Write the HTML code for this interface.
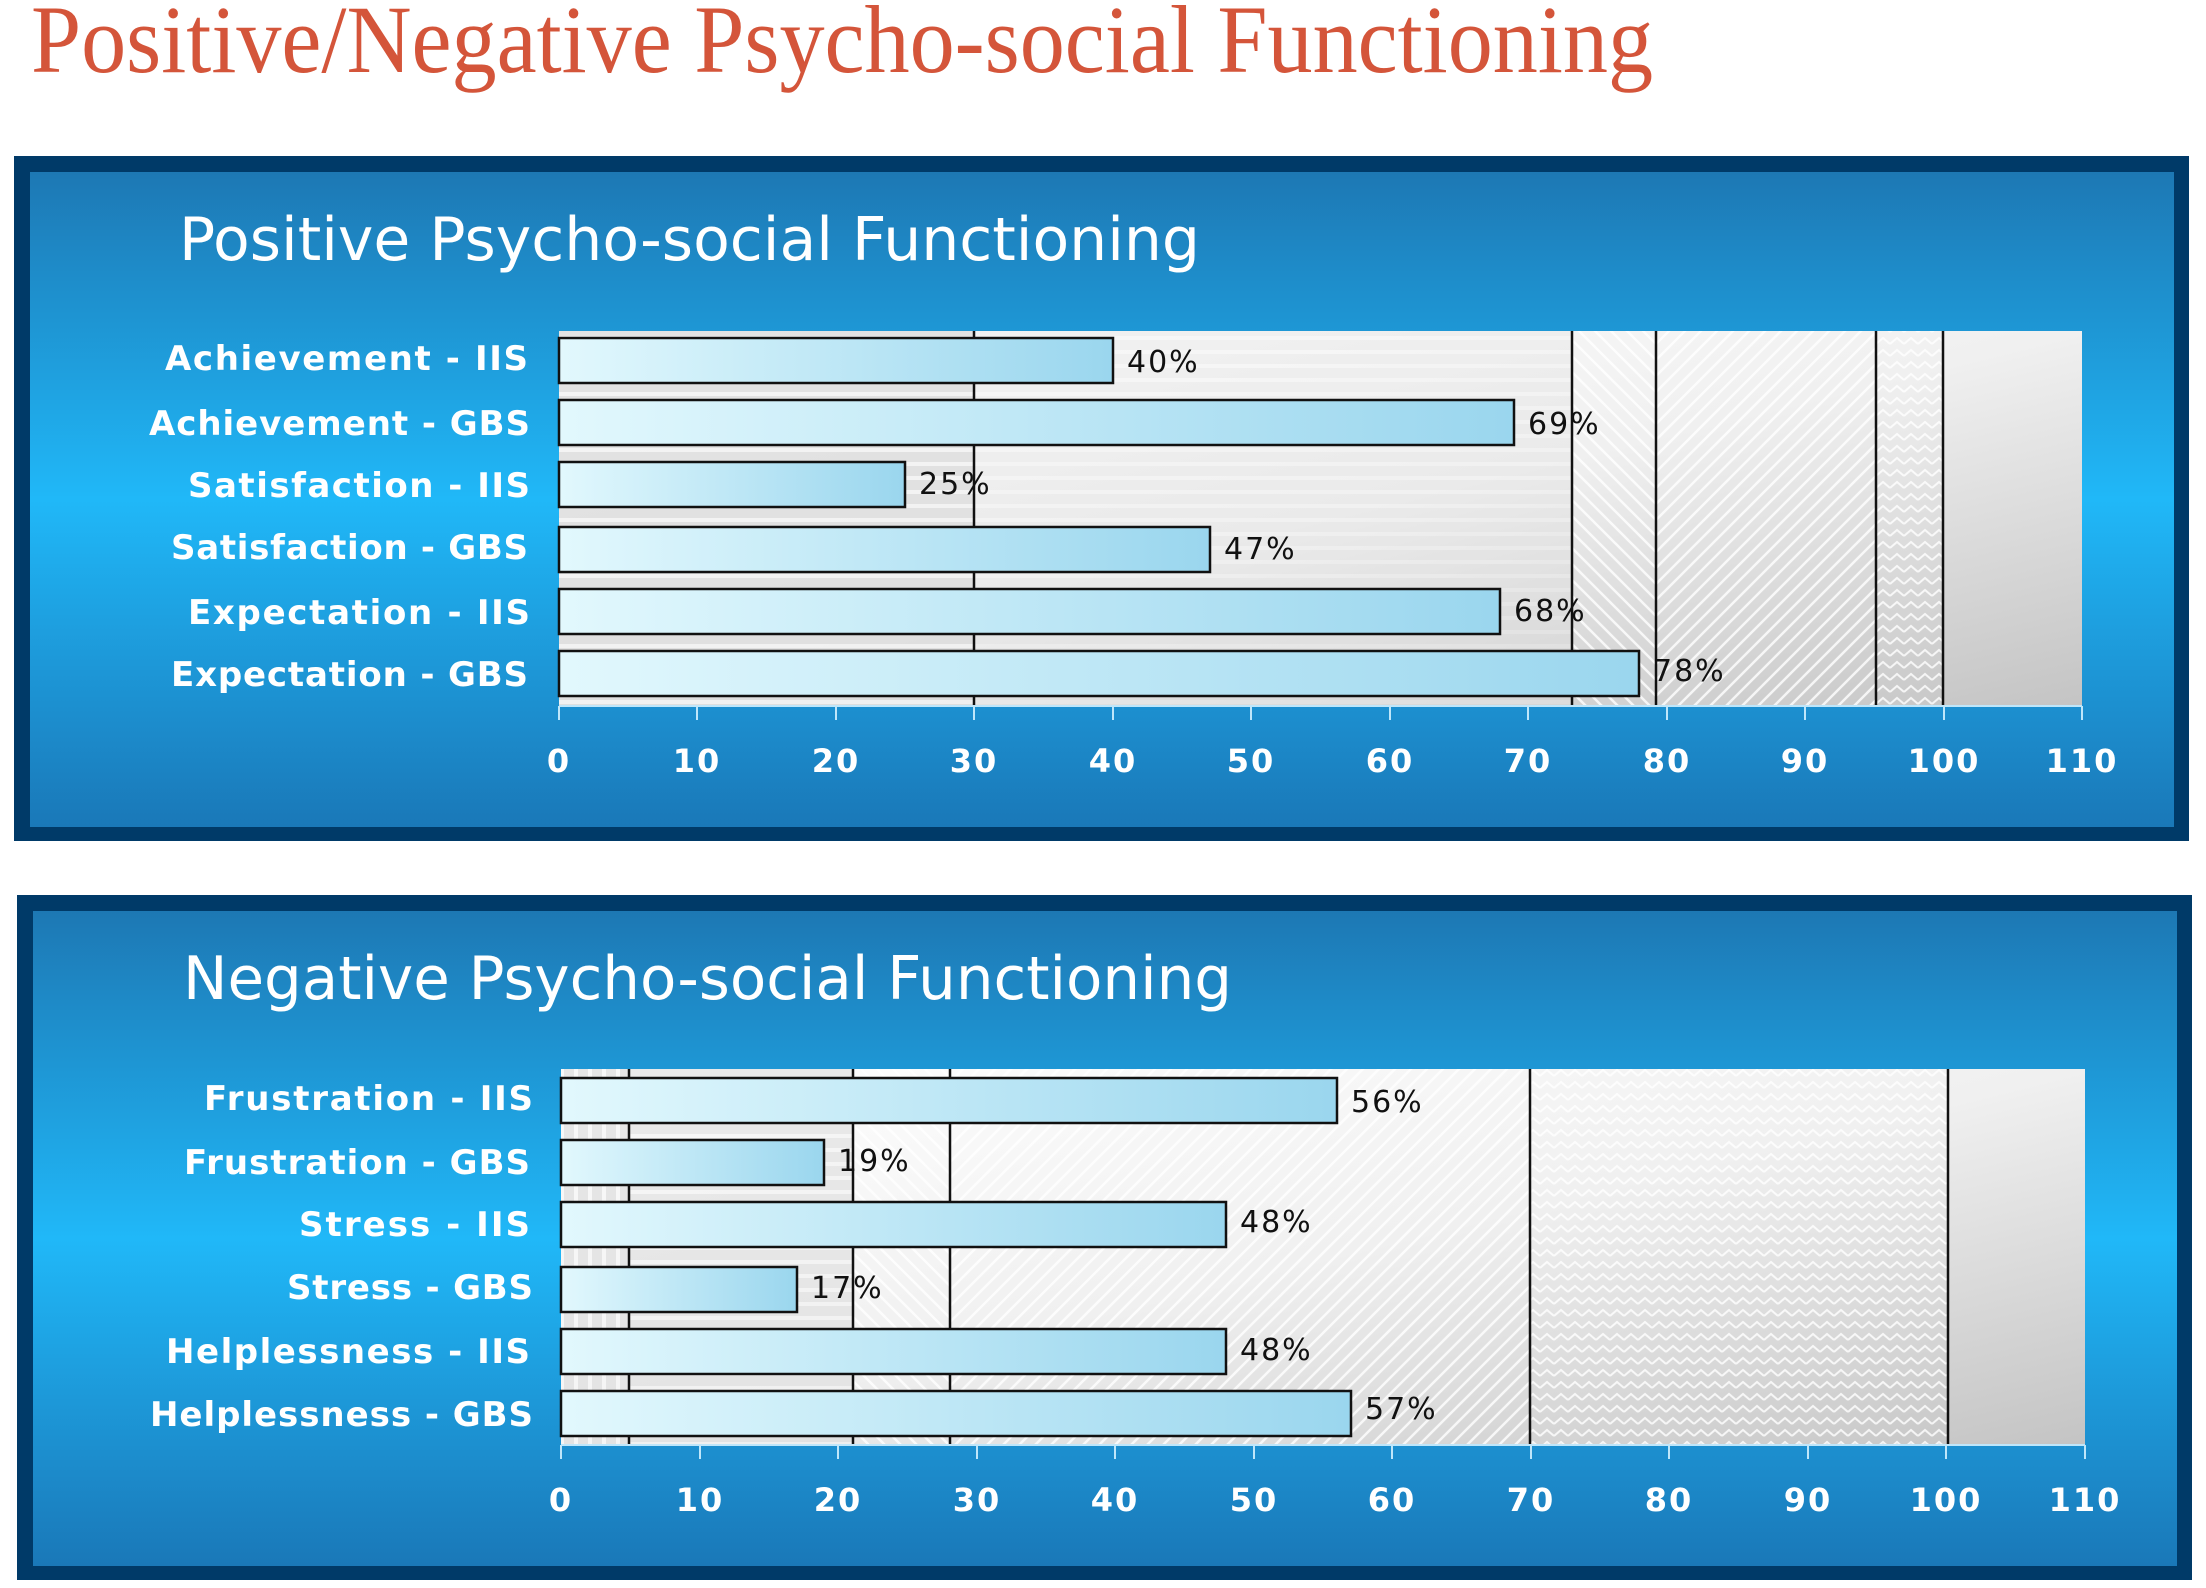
<!DOCTYPE html>
<html><head><meta charset="utf-8"><style>
html,body{margin:0;padding:0;background:#fff;width:2206px;height:1588px;overflow:hidden}
svg{display:block}
</style></head><body>
<svg width="2206" height="1588" viewBox="0 0 2206 1588" xmlns="http://www.w3.org/2000/svg">
<defs>
<linearGradient id="bg" x1="0" y1="0" x2="0" y2="1">
<stop offset="0" stop-color="#1d78b4"/><stop offset="0.5" stop-color="#20b8f8"/><stop offset="1" stop-color="#1a78b8"/>
</linearGradient>
<linearGradient id="plot" x1="0" y1="0" x2="1" y2="1">
<stop offset="0" stop-color="#ffffff"/><stop offset="0.5" stop-color="#f0f0f0"/><stop offset="1" stop-color="#c4c4c4"/>
</linearGradient>
<linearGradient id="bar" x1="0" y1="0" x2="1" y2="0">
<stop offset="0" stop-color="#e2f8fd"/><stop offset="1" stop-color="#9ad6ee"/>
</linearGradient>
<pattern id="hs" width="10" height="14" patternUnits="userSpaceOnUse"><rect width="10" height="14" fill="#dcdcdc"/><rect y="0" width="10" height="4" fill="#f2f2f2"/></pattern>
<pattern id="fd" width="16" height="16" patternUnits="userSpaceOnUse"><path d="M-4,4 L4,-4 M0,16 L16,0 M12,20 L20,12" stroke="#fff" stroke-width="2.5"/></pattern>
<pattern id="bd" width="16" height="16" patternUnits="userSpaceOnUse"><path d="M-4,12 L4,20 M0,0 L16,16 M12,-4 L20,4" stroke="#fff" stroke-width="2.5"/></pattern>
<pattern id="zz" width="14" height="12" patternUnits="userSpaceOnUse"><path d="M0,8 L7,2 L14,8" fill="none" stroke="#fff" stroke-width="2"/></pattern>
<pattern id="vs" width="14" height="10" patternUnits="userSpaceOnUse"><rect width="14" height="10" fill="#e0e0e0"/><rect x="0" width="4" height="10" fill="#f6f6f6"/></pattern>
</defs>

<text x="31" y="72" font-family="Liberation Serif, serif" font-size="96" fill="#d4553a" textLength="1622" lengthAdjust="spacingAndGlyphs">Positive/Negative Psycho-social Functioning</text>

<!-- Panel 1 -->
<rect x="14" y="156" width="2175" height="685" fill="#003a68"/>
<rect x="30" y="172" width="2144" height="655" fill="url(#bg)"/>
<text x="179" y="260" font-family="DejaVu Sans, sans-serif" font-size="60" fill="#fff" textLength="1021" lengthAdjust="spacingAndGlyphs">Positive Psycho-social Functioning</text>
<g>
<rect x="559" y="331" width="1523" height="375" fill="url(#plot)"/>
<rect x="559" y="331" width="415" height="375" fill="url(#hs)" opacity="0.8"/>
<rect x="974" y="331" width="598" height="375" fill="url(#hs)" opacity="0.3"/>
<rect x="1572" y="331" width="84" height="375" fill="url(#bd)" opacity="0.8"/>
<rect x="1656" y="331" width="220" height="375" fill="url(#fd)" opacity="0.8"/>
<rect x="1876" y="331" width="67" height="375" fill="url(#zz)" opacity="0.8"/>
<g stroke="#111" stroke-width="2.5">
<line x1="974" y1="331" x2="974" y2="706"/><line x1="1572" y1="331" x2="1572" y2="706"/><line x1="1656" y1="331" x2="1656" y2="706"/><line x1="1876" y1="331" x2="1876" y2="706"/><line x1="1943" y1="331" x2="1943" y2="706"/>
</g>
<g stroke="#111" stroke-width="2.5" fill="url(#bar)">
<rect x="559" y="338" width="554" height="45"/>
<rect x="559" y="400" width="955" height="45"/>
<rect x="559" y="462" width="346" height="45"/>
<rect x="559" y="527" width="651" height="45"/>
<rect x="559" y="589" width="941" height="45"/>
<rect x="559" y="651" width="1080" height="45"/>
</g>
<g font-family="DejaVu Sans, sans-serif" font-size="30" fill="#111" letter-spacing="2">
<text x="1127" y="372">40%</text><text x="1528" y="434">69%</text><text x="919" y="494">25%</text><text x="1224" y="559">47%</text><text x="1514" y="621">68%</text><text x="1653" y="681">78%</text>
</g>
<g font-family="DejaVu Sans, sans-serif" font-weight="bold" font-size="34" fill="#fff" text-anchor="end" lengthAdjust="spacingAndGlyphs">
<text x="528" y="370" textLength="363">Achievement - IIS</text>
<text x="530" y="435" textLength="381">Achievement - GBS</text>
<text x="530" y="497" textLength="342">Satisfaction - IIS</text>
<text x="528" y="559" textLength="357">Satisfaction - GBS</text>
<text x="530" y="624" textLength="342">Expectation - IIS</text>
<text x="528" y="686" textLength="357">Expectation - GBS</text>
</g>
<g stroke="#bfe6fa" stroke-width="2">
<line x1="559" y1="706" x2="2082" y2="706"/>
<line x1="559" y1="706" x2="559" y2="720"/><line x1="697" y1="706" x2="697" y2="720"/><line x1="836" y1="706" x2="836" y2="720"/><line x1="974" y1="706" x2="974" y2="720"/><line x1="1113" y1="706" x2="1113" y2="720"/><line x1="1251" y1="706" x2="1251" y2="720"/><line x1="1390" y1="706" x2="1390" y2="720"/><line x1="1528" y1="706" x2="1528" y2="720"/><line x1="1667" y1="706" x2="1667" y2="720"/><line x1="1805" y1="706" x2="1805" y2="720"/><line x1="1944" y1="706" x2="1944" y2="720"/><line x1="2082" y1="706" x2="2082" y2="720"/>
</g>
<g font-family="DejaVu Sans, sans-serif" font-weight="bold" font-size="32" fill="#fff" text-anchor="middle" letter-spacing="2">
<text x="559" y="772">0</text><text x="697" y="772">10</text><text x="836" y="772">20</text><text x="974" y="772">30</text><text x="1113" y="772">40</text><text x="1251" y="772">50</text><text x="1390" y="772">60</text><text x="1528" y="772">70</text><text x="1667" y="772">80</text><text x="1805" y="772">90</text><text x="1944" y="772">100</text><text x="2082" y="772">110</text>
</g>
</g>

<!-- Panel 2 -->
<rect x="17" y="895" width="2175" height="685" fill="#003a68"/>
<rect x="33" y="911" width="2144" height="655" fill="url(#bg)"/>
<text x="183" y="999" font-family="DejaVu Sans, sans-serif" font-size="60" fill="#fff" textLength="1049" lengthAdjust="spacingAndGlyphs">Negative Psycho-social Functioning</text>
<g>
<rect x="561" y="1069" width="1524" height="376" fill="url(#plot)"/>
<rect x="561" y="1069" width="68" height="376" fill="url(#vs)" opacity="0.8"/>
<rect x="629" y="1069" width="224" height="376" fill="url(#hs)" opacity="0.6"/>
<rect x="853" y="1069" width="97" height="376" fill="url(#bd)" opacity="0.8"/>
<rect x="950" y="1069" width="580" height="376" fill="url(#fd)" opacity="0.8"/>
<rect x="1530" y="1069" width="418" height="376" fill="url(#zz)" opacity="0.8"/>
<g stroke="#111" stroke-width="2.5">
<line x1="629" y1="1069" x2="629" y2="1445"/><line x1="853" y1="1069" x2="853" y2="1445"/><line x1="950" y1="1069" x2="950" y2="1445"/><line x1="1530" y1="1069" x2="1530" y2="1445"/><line x1="1948" y1="1069" x2="1948" y2="1445"/>
</g>
<g stroke="#111" stroke-width="2.5" fill="url(#bar)">
<rect x="561" y="1078" width="776" height="45"/>
<rect x="561" y="1140" width="263" height="45"/>
<rect x="561" y="1202" width="665" height="45"/>
<rect x="561" y="1267" width="236" height="45"/>
<rect x="561" y="1329" width="665" height="45"/>
<rect x="561" y="1391" width="790" height="45"/>
</g>
<g font-family="DejaVu Sans, sans-serif" font-size="30" fill="#111" letter-spacing="2">
<text x="1351" y="1112">56%</text><text x="838" y="1171">19%</text><text x="1240" y="1232">48%</text><text x="811" y="1298">17%</text><text x="1240" y="1360">48%</text><text x="1365" y="1419">57%</text>
</g>
<g font-family="DejaVu Sans, sans-serif" font-weight="bold" font-size="34" fill="#fff" text-anchor="end" lengthAdjust="spacingAndGlyphs">
<text x="533" y="1110" textLength="329">Frustration - IIS</text>
<text x="530" y="1174" textLength="346">Frustration - GBS</text>
<text x="530" y="1236" textLength="231">Stress - IIS</text>
<text x="533" y="1299" textLength="246">Stress - GBS</text>
<text x="530" y="1363" textLength="364">Helplessness - IIS</text>
<text x="533" y="1426" textLength="383">Helplessness - GBS</text>
</g>
<g stroke="#bfe6fa" stroke-width="2">
<line x1="561" y1="1445" x2="2085" y2="1445"/>
<line x1="561" y1="1445" x2="561" y2="1459"/><line x1="700" y1="1445" x2="700" y2="1459"/><line x1="838" y1="1445" x2="838" y2="1459"/><line x1="977" y1="1445" x2="977" y2="1459"/><line x1="1115" y1="1445" x2="1115" y2="1459"/><line x1="1254" y1="1445" x2="1254" y2="1459"/><line x1="1392" y1="1445" x2="1392" y2="1459"/><line x1="1531" y1="1445" x2="1531" y2="1459"/><line x1="1669" y1="1445" x2="1669" y2="1459"/><line x1="1808" y1="1445" x2="1808" y2="1459"/><line x1="1946" y1="1445" x2="1946" y2="1459"/><line x1="2085" y1="1445" x2="2085" y2="1459"/>
</g>
<g font-family="DejaVu Sans, sans-serif" font-weight="bold" font-size="32" fill="#fff" text-anchor="middle" letter-spacing="2">
<text x="561" y="1511">0</text><text x="700" y="1511">10</text><text x="838" y="1511">20</text><text x="977" y="1511">30</text><text x="1115" y="1511">40</text><text x="1254" y="1511">50</text><text x="1392" y="1511">60</text><text x="1531" y="1511">70</text><text x="1669" y="1511">80</text><text x="1808" y="1511">90</text><text x="1946" y="1511">100</text><text x="2085" y="1511">110</text>
</g>
</g>
</svg>
</body></html>
